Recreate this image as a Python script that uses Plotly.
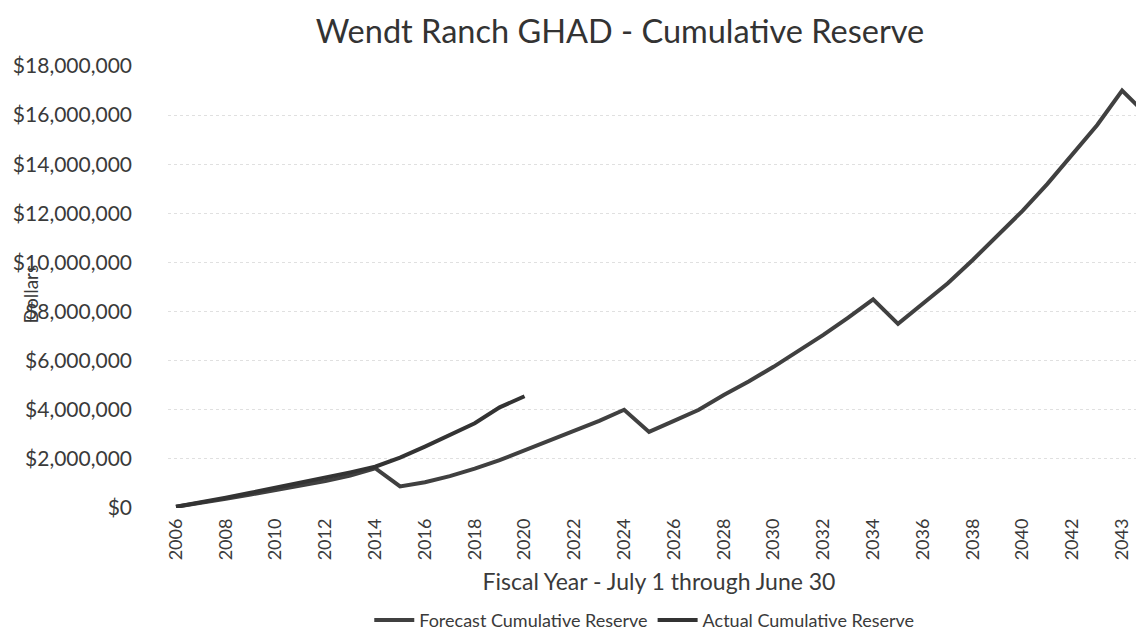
import plotly.graph_objects as go

# Data
forecast_years = list(range(2006, 2046))
forecast_values = [
    0.05, 0.20, 0.38, 0.55, 0.72, 0.90, 1.10, 1.32, 1.62,   # 2006-2014
    0.88, 1.05, 1.30, 1.60, 1.95, 2.35, 2.75, 3.15, 3.55, 4.00,  # 2015-2024
    3.10, 3.55, 4.00, 4.60, 5.15, 5.75, 6.40, 7.05, 7.75, 8.50,  # 2025-2034
    7.50, 8.30, 9.15, 10.10, 11.10, 12.10, 13.20, 14.40, 15.60, 17.00,  # 2035-2044
    16.00,  # 2045
]
forecast_values = [v * 1_000_000 for v in forecast_values]

actual_years = list(range(2006, 2021))
actual_values = [
    0.05, 0.22, 0.42, 0.62, 0.82, 1.03, 1.25, 1.45, 1.68,
    2.05, 2.50, 2.98, 3.45, 4.10, 4.55,
]
actual_values = [v * 1_000_000 for v in actual_values]

tick_positions = list(range(2006, 2045, 2))
tick_labels = [str(y) for y in range(2006, 2043, 2)] + ["2043"]

y_ticks = list(range(0, 18_000_001, 2_000_000))

FONT = "Lato"
TXT = "#3a3a3a"

fig = go.Figure()
fig.add_trace(go.Scatter(
    x=forecast_years, y=forecast_values, mode="lines",
    name="Forecast Cumulative Reserve",
    line=dict(color="#404040", width=4),
))
fig.add_trace(go.Scatter(
    x=actual_years, y=actual_values, mode="lines",
    name="Actual Cumulative Reserve",
    line=dict(color="#333333", width=4),
))

fig.update_layout(
    width=1144, height=633,
    margin=dict(l=160, r=2, t=58, b=126),
    paper_bgcolor="white", plot_bgcolor="white",
    font=dict(family=FONT, color=TXT),
    title=dict(
        text="Wendt Ranch GHAD - Cumulative Reserve",
        x=0.535, xanchor="center", y=0.962, yanchor="middle",
        font=dict(size=32.5, color="#333333", family=FONT),
    ),
    showlegend=True,
    legend=dict(
        orientation="h", x=0.485, xanchor="center",
        y=-0.254, yanchor="middle",
        font=dict(size=18, color=TXT),
        itemwidth=40, tracegroupgap=0,
    ),
    xaxis=dict(
        range=[2005.68, 2045.12],
        tickmode="array", tickvals=tick_positions, ticktext=tick_labels,
        tickangle=-90, tickfont=dict(size=18, color=TXT),
        showgrid=False, zeroline=False, showline=False,
        ticks="", ticklabelstandoff=6,
        title=dict(text="Fiscal Year - July 1 through June 30",
                   font=dict(size=23, color=TXT), standoff=14),
    ),
    yaxis=dict(
        range=[0, 18_000_000],
        tickmode="array", tickvals=y_ticks,
        tickformat="$,.0f",
        tickfont=dict(size=21, color=TXT),
        showgrid=True, gridcolor="#e0e0e0", griddash="dot", gridwidth=1,
        zeroline=False, showline=False, ticks="",
        ticklabelstandoff=35,
    ),
    annotations=[dict(
        text="Dollars", textangle=-90,
        xref="paper", yref="paper",
        x=(22 - 160) / 982, y=(507 - 290) / 449,
        xanchor="center", yanchor="middle", showarrow=False,
        font=dict(size=19, color=TXT),
    )],
)

fig.write_html("out.html")
